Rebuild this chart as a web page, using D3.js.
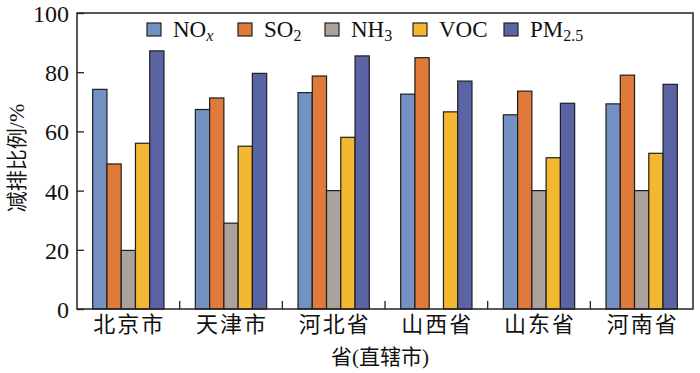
<!DOCTYPE html>
<html>
<head>
<meta charset="utf-8">
<script src="https://cdn.jsdelivr.net/npm/d3@7"></script>
<style>
  body { margin: 0; background: #fff; }
  text { font-family: "Liberation Serif", "Times New Roman", serif; fill: #111; }
  .cjk { font-family: "Noto Sans CJK SC", sans-serif; }
</style>
</head>
<body>
<div id="output"></div>
<script>
// data
const provinces = ["北京市", "天津市", "河北省", "山西省", "山东省", "河南省"];
const pollutants = ["NOx", "SO2", "NH3", "VOC", "PM2.5"];
const noxValues = [74.2, 67.4, 73.1, 72.6, 65.6, 69.3];
const so2Values = [49.0, 71.3, 78.7, 84.9, 73.6, 79.0];
const nh3Values = [19.8, 29.0, 40.0, 0, 40.0, 40.0];
const vocValues = [56.0, 55.0, 58.0, 66.6, 51.1, 52.6];
const pm25Values = [87.2, 79.6, 85.5, 77.0, 69.5, 75.9];
const yTicks = [0, 20, 40, 60, 80, 100];

const series = [noxValues, so2Values, nh3Values, vocValues, pm25Values];
const colors = ["#7392c2", "#e07a3b", "#aba29b", "#f3b731", "#5a64a4"];

// legend label pieces: [main, sub, italic sub]
const legendParts = {
    "NOx": ["NO", "x", true],
    "SO2": ["SO", "2", false],
    "NH3": ["NH", "3", false],
    "VOC": ["VOC", "", false],
    "PM2.5": ["PM", "2.5", false]
};

const width = 700, height = 373;
const margin = {top: 13, right: 7, bottom: 64, left: 77};
const serif = '"Liberation Serif", "Times New Roman", serif';
const legendX = [147, 238, 325, 413, 504];

const svg = d3.select("#output").append("svg")
    .attr("width", width)
    .attr("height", height);

const x = d3.scaleBand()
    .domain(provinces)
    .range([margin.left, width - margin.right])
    .paddingInner(0)
    .paddingOuter(0);

const xSub = d3.scaleBand()
    .domain(pollutants)
    .range([0, x.bandwidth()])
    .paddingInner(0)
    .paddingOuter(1.1);

const y = d3.scaleLinear()
    .domain([0, 100])
    .range([height - margin.bottom, margin.top]);

// bars
const rows = provinces.map((p, i) => ({
    province: p,
    values: pollutants.map((k, j) => ({key: k, value: series[j][i], color: colors[j]}))
}));

svg.append("g")
    .selectAll("g")
    .data(rows)
    .join("g")
    .attr("transform", d => `translate(${x(d.province)},0)`)
    .selectAll("rect")
    .data(d => d.values.filter(v => v.value > 0))
    .join("rect")
    .attr("x", d => xSub(d.key))
    .attr("y", d => y(d.value))
    .attr("width", xSub.bandwidth())
    .attr("height", d => y(0) - y(d.value))
    .attr("fill", d => d.color)
    .attr("stroke", "#1e1e1e")
    .attr("stroke-width", 1.2);

// y axis, ticks inward
const yAxis = svg.append("g")
    .attr("transform", `translate(${margin.left},0)`)
    .call(d3.axisRight(y).tickValues(yTicks).tickSize(7).tickFormat(d3.format("d")));
yAxis.attr("font-family", null).attr("font-size", null);
yAxis.select(".domain").remove();
yAxis.selectAll("line").attr("stroke", "#222").attr("stroke-width", 1.3);
yAxis.selectAll("text")
    .attr("x", -8)
    .attr("text-anchor", "end")
    .attr("dy", "0.35em")
    .style("font-family", serif)
    .style("font-size", "24px");

// x axis: ticks between categories, pointing up
const bounds = provinces.slice(1).map(p => x(p));
svg.append("g")
    .selectAll("line")
    .data(bounds)
    .join("line")
    .attr("x1", d => d)
    .attr("x2", d => d)
    .attr("y1", y(0))
    .attr("y2", y(0) - 8)
    .attr("stroke", "#222")
    .attr("stroke-width", 1.3);

svg.append("g")
    .selectAll("text")
    .data(provinces)
    .join("text")
    .attr("class", "cjk")
    .attr("x", d => x(d) + x.bandwidth() / 2 + 1)
    .attr("y", y(0) + 23)
    .attr("text-anchor", "middle")
    .style("font-size", "22px")
    .style("letter-spacing", "2px")
    .text(d => d);

// frame
svg.append("rect")
    .attr("x", margin.left)
    .attr("y", margin.top)
    .attr("width", width - margin.left - margin.right)
    .attr("height", height - margin.top - margin.bottom)
    .attr("fill", "none")
    .attr("stroke", "#222")
    .attr("stroke-width", 1.5);

// axis titles
svg.append("text")
    .attr("x", 380)
    .attr("y", 364)
    .attr("text-anchor", "middle")
    .style("font-size", "21px")
    .call(t => {
        t.append("tspan").attr("class", "cjk").text("省");
        t.append("tspan").text("(");
        t.append("tspan").attr("class", "cjk").text("直辖市");
        t.append("tspan").text(")");
    });

svg.append("text")
    .attr("transform", `translate(24,${(margin.top + y(0)) / 2 - 3}) rotate(-90)`)
    .attr("text-anchor", "middle")
    .style("font-size", "21px")
    .call(t => {
        t.append("tspan").attr("class", "cjk").text("减排比例");
        t.append("tspan").style("font-size", "22px").text("/%");
    });

// legend
const legend = svg.append("g");
pollutants.forEach((k, j) => {
    const g = legend.append("g").attr("transform", `translate(${legendX[j]},0)`);
    g.append("rect")
        .attr("x", 0)
        .attr("y", 23)
        .attr("width", 14)
        .attr("height", 13)
        .attr("fill", colors[j])
        .attr("stroke", "#222")
        .attr("stroke-width", 1.2);
    const parts = legendParts[k];
    const t = g.append("text")
        .attr("x", 26)
        .attr("y", 37)
        .style("font-size", "23px");
    t.append("tspan").text(parts[0]);
    if (parts[1]) {
        t.append("tspan")
            .attr("dy", 4)
            .style("font-size", "16px")
            .style("font-style", parts[2] ? "italic" : "normal")
            .text(parts[1]);
    }
});
</script>
</body>
</html>
